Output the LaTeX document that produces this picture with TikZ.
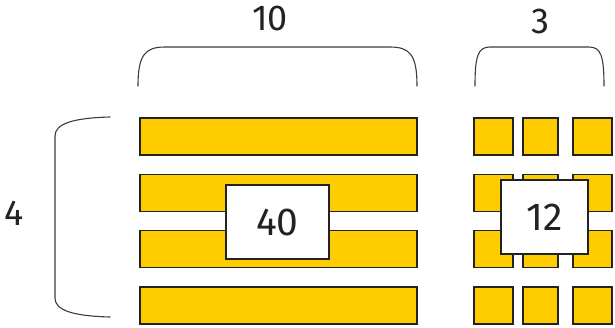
\documentclass[tikz,border=0pt]{standalone}
\usepackage{xcolor}
\usepackage{fontspec}
\setmainfont{Fira Sans}
\usepackage{tikz}
\definecolor{AreaYellow}{HTML}{FFCC00}
\definecolor{AreaInk}{HTML}{222222}
\definecolor{AreaBrace}{HTML}{3C3C3C}
\tikzset{
  stripbar/.style={draw=AreaInk, fill=AreaYellow, line width=1.2pt},
  prodbox/.style={draw=AreaInk, fill=white, line width=1.2pt, inner sep=0pt,
    font=\fontsize{39bp}{42bp}\selectfont, text=AreaInk},
  countlabel/.style={inner sep=0pt, text=AreaInk, font=\fontsize{36bp}{40bp}\selectfont},
  bracepath/.style={draw=AreaBrace, line width=1.1pt, line cap=round}
}

\begin{document}
\begin{tikzpicture}[x=1bp,y=-1bp]
        \useasboundingbox (0,0) rectangle (615,327);
        % ten-wide strips and split squares, four rows
        \foreach \y in {118,174.3,230.6,287} {
          \draw[stripbar] (140,\y) rectangle ++(277,37);
          \foreach \x/\w in {474/39,523/35,573/39} {
            \draw[stripbar] (\x,\y) rectangle ++(\w,37);
          }
        }
        \node[prodbox, minimum width=103bp, minimum height=74bp] (forty) at (277.5,222) {40};
        \node[prodbox, minimum width=87bp, minimum height=74bp] (twelve) at (544.5,217) {12};
        % braces
        \draw[bracepath] (138,86) .. controls (138,55) and (145,47) .. (165,47) -- (390,47)
          .. controls (410,47) and (417,55) .. (417,86);
        \draw[bracepath] (475,86) .. controls (475,56) and (478,47) .. (490,47) -- (589,47)
          .. controls (601,47) and (604,56) .. (604,86);
        \draw[bracepath] (110,117) .. controls (72,118) and (55,124) .. (55,136) -- (55,298)
          .. controls (55,310) and (72,316) .. (110,317);
        \node[countlabel] (ten) at (270,18) {10};
        \node[countlabel] (three) at (540,21) {3};
        \node[countlabel] (four) at (14,213) {4};
      \end{tikzpicture}
\end{document}
